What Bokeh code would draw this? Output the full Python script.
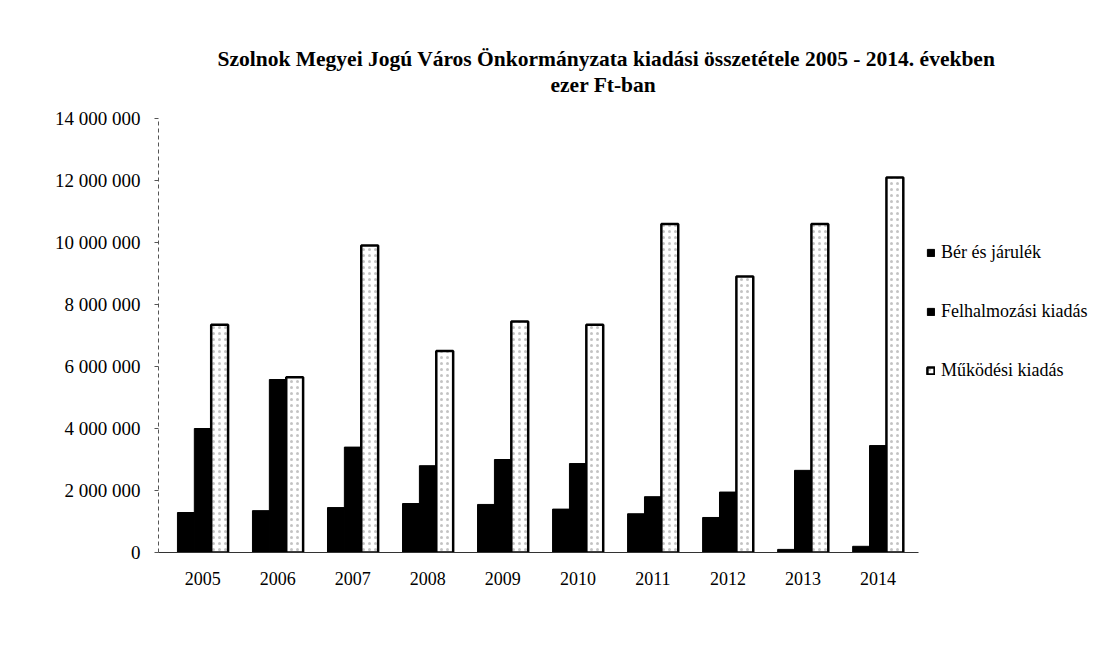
from bokeh.plotting import figure
from bokeh.models import (Range1d, FixedTicker, CustomJSTickFormatter,
                          Legend, LegendItem, Title, ColumnDataSource)
from bokeh.embed import file_html
from bokeh.resources import INLINE

years = ["2005", "2006", "2007", "2008", "2009", "2010", "2011", "2012", "2013", "2014"]
ber = [1290000, 1350000, 1450000, 1580000, 1550000, 1400000, 1250000, 1130000, 100000, 200000]
felh = [4000000, 5580000, 3400000, 2800000, 3000000, 2870000, 1800000, 1950000, 2650000, 3450000]
muk = [7350000, 5650000, 9900000, 6500000, 7450000, 7350000, 10600000, 8900000, 10600000, 12100000]
series_names = ["Bér és járulék", "Felhalmozási kiadás", "Működési kiadás"]
y_ticks = [0, 2000000, 4000000, 6000000, 8000000, 10000000, 12000000, 14000000]

w = 0.225
xc = [i + 0.5 for i in range(len(years))]
src = ColumnDataSource(dict(x1=[x - w for x in xc], x2=xc, x3=[x + w for x in xc],
                            ber=ber, felh=felh, muk=muk))

FONT = "Liberation Serif"

p = figure(x_range=Range1d(-0.09, 10.04), y_range=Range1d(0, 14710000),
           frame_width=760, frame_height=456, output_backend="svg", toolbar_location=None,
           min_border_left=158, min_border_top=96, min_border_bottom=97,
           min_border_right=171)
p.outline_line_color = None
p.xgrid.grid_line_color = None
p.ygrid.grid_line_color = None
p.background_fill_color = "white"
p.border_fill_color = "white"

r1 = p.vbar(x="x1", top="ber", width=w, source=src,
            fill_color="black", line_color="black", line_width=1)
r2 = p.vbar(x="x2", top="felh", width=w, source=src,
            fill_color="black", line_color="black", line_width=1)
r3 = p.vbar(x="x3", top="muk", width=w, source=src,
            fill_color="white", line_color="black", line_width=2.5,
            hatch_pattern="dot", hatch_scale=6, hatch_color="#888888",
            hatch_weight=1, hatch_alpha=0.5)

# axes
p.yaxis.ticker = FixedTicker(ticks=y_ticks)
p.yaxis.bounds = (y_ticks[0], y_ticks[-1])
p.yaxis.formatter = CustomJSTickFormatter(code="""
    return Math.round(tick).toString().replace(/\\B(?=(\\d{3})+(?!\\d))/g, ' ');
""")
p.yaxis.major_label_text_font = FONT
p.yaxis.major_label_text_font_size = "19px"
p.yaxis.major_label_text_color = "black"
p.yaxis.axis_line_color = "#555555"
p.yaxis.axis_line_dash = "4 3"
p.yaxis.axis_line_width = 1
p.yaxis.major_tick_out = 4
p.yaxis.major_tick_in = 0
p.yaxis.major_tick_line_color = "#555555"
p.yaxis.minor_tick_line_color = None
p.yaxis.major_label_standoff = 14

p.xaxis.ticker = FixedTicker(ticks=xc)
p.xaxis.major_label_overrides = {x: y for x, y in zip(xc, years)}
p.xaxis.major_label_text_font = FONT
p.xaxis.major_label_text_font_size = "18px"
p.xaxis.major_label_text_color = "black"
p.xaxis.axis_line_color = "#333333"
p.xaxis.axis_line_width = 1
p.xaxis.major_tick_line_color = None
p.xaxis.minor_tick_line_color = None
p.xaxis.major_label_standoff = 13

legend = Legend(items=[LegendItem(label=series_names[0], renderers=[r1]),
                       LegendItem(label=series_names[1], renderers=[r2]),
                       LegendItem(label=series_names[2], renderers=[r3])],
                label_text_font=FONT, label_text_font_size="18px",
                label_text_color="black", label_height=15,
                glyph_width=9, glyph_height=9, spacing=38,
                border_line_color=None, background_fill_alpha=0,
                padding=4, margin=0, label_standoff=6,
                location=(8, 171))
p.add_layout(legend, "right")

t2 = Title(text="ezer Ft-ban", align="left", text_font=FONT, text_color="black",
           text_font_size="21.5px", text_font_style="bold", offset=392, standoff=0)
t1 = Title(text="Szolnok Megyei Jogú Város Önkormányzata kiadási összetétele 2005 - 2014. években",
           align="left", text_font=FONT, text_font_size="21.5px", text_color="black",
           text_font_style="bold", offset=59, standoff=0)
p.add_layout(t2, "above")
p.add_layout(t1, "above")

open("out.html", "w").write(file_html(p, INLINE))
